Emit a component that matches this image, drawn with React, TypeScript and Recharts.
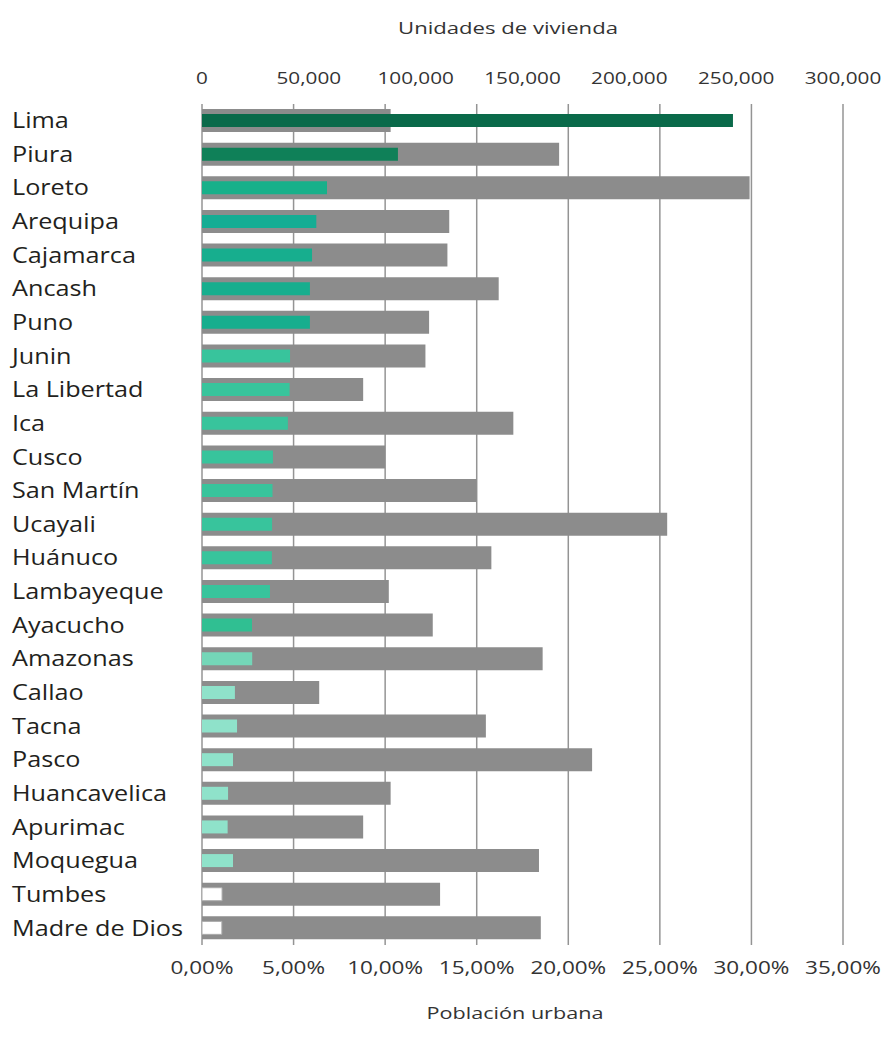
import React from "react";
import { BarChart, Bar, XAxis, YAxis, CartesianGrid, Cell } from "recharts";

const regions = [
  "Lima", "Piura", "Loreto", "Arequipa", "Cajamarca", "Ancash", "Puno", "Junin",
  "La Libertad", "Ica", "Cusco", "San Martín", "Ucayali", "Huánuco", "Lambayeque",
  "Ayacucho", "Amazonas", "Callao", "Tacna", "Pasco", "Huancavelica", "Apurimac",
  "Moquegua", "Tumbes", "Madre de Dios",
];

// Unidades de vivienda (top axis)
const viviendas = [
  248500, 91700, 58500, 53500, 51500, 50500, 50500, 41200, 41000, 40200, 33200,
  33000, 32800, 32700, 31800, 23400, 23500, 15400, 16400, 14500, 12200, 12000,
  14500, 9400, 9300,
];

// Población urbana, % (bottom axis)
const poblacion = [
  10.3, 19.5, 29.9, 13.5, 13.4, 16.2, 12.4, 12.2, 8.8, 17.0, 10.0, 15.0, 25.4,
  15.8, 10.2, 12.6, 18.6, 6.4, 15.5, 21.3, 10.3, 8.8, 18.4, 13.0, 18.5,
];

const barColors = [
  "#0a6a4a", "#0f8058", "#18b08a", "#15ad94", "#17ae8e", "#17ae8e", "#17ae8e",
  "#38c49c", "#38c49c", "#38c49c", "#38c49c", "#38c49c", "#38c49c", "#38c49c",
  "#38c49c", "#30bf92", "#74d6b8", "#8fe2ca", "#8fe2ca", "#8fe2ca", "#8fe2ca",
  "#8fe2ca", "#8fe2ca", "#ffffff", "#ffffff",
];

const viviendaTicks = [0, 50000, 100000, 150000, 200000, 250000, 300000];
const poblacionTicks = [0, 5, 10, 15, 20, 25, 30, 35];

const data = regions.map((region, i) => ({
  region,
  viviendas: viviendas[i],
  poblacion: poblacion[i],
}));

const FONT = "'Open Sans', sans-serif";

const RegionTick = ({ y, payload }: any) => (
  <text
    transform={`translate(4, ${y}) scale(1.2, 1)`}
    dy="0.35em"
    fontSize={21}
    fill="#231f20"
    fontFamily={FONT}
  >
    {payload.value}
  </text>
);

const TopTick = ({ x, y, payload }: any) => (
  <text
    transform={`translate(${x}, ${y - 18}) scale(1.22, 1)`}
    textAnchor="middle"
    fontSize={17}
    fill="#333"
    fontFamily={FONT}
  >
    {payload.value.toLocaleString("en-US")}
  </text>
);

const BottomTick = ({ x, y, payload }: any) => (
  <text
    transform={`translate(${x}, ${y + 27}) scale(1.25, 1)`}
    textAnchor="middle"
    fontSize={18}
    fill="#333"
    fontFamily={FONT}
  >
    {payload.value.toFixed(2).replace(".", ",") + "%"}
  </text>
);

const titleStyle: React.CSSProperties = {
  position: "absolute",
  fontFamily: FONT,
  fontSize: 17,
  color: "#333",
  whiteSpace: "nowrap",
  lineHeight: "20px",
};

export default function App() {
  return (
    <div style={{ position: "relative", width: 879, height: 1047, background: "#fff" }}>
      <div style={{ ...titleStyle, left: 500, top: 10, transform: "translateX(-50%) scaleX(1.3)" }}>
        Unidades de vivienda
      </div>
      <BarChart
        width={879}
        height={1000}
        data={data}
        layout="vertical"
        margin={{ top: 10, right: 44, bottom: 20, left: 0 }}
      >
        <CartesianGrid
          xAxisId="pob"
          yAxisId="cat"
          horizontal={false}
          stroke="#949494"
          strokeWidth={1.5}
        />
        <XAxis
          xAxisId="viv"
          orientation="top"
          type="number"
          domain={[0, 300000]}
          ticks={viviendaTicks}
          interval={0}
          axisLine={false}
          tickLine={false}
          tickSize={0}
          height={86}
          tick={TopTick}
        />
        <XAxis
          xAxisId="pob"
          orientation="bottom"
          type="number"
          domain={[0, 35]}
          ticks={poblacionTicks}
          interval={0}
          axisLine={false}
          tickLine={false}
          tickSize={0}
          height={43}
          tick={BottomTick}
        />
        <YAxis
          yAxisId="cat"
          type="category"
          dataKey="region"
          width={194}
          axisLine={false}
          tickLine={false}
          interval={0}
          tick={RegionTick}
        />
        <YAxis yAxisId="cat2" type="category" dataKey="region" hide />
        <Bar
          dataKey="poblacion"
          xAxisId="pob"
          yAxisId="cat2"
          barSize={23}
          fill="#8c8c8c"
          isAnimationActive={false}
        />
        <Bar
          dataKey="viviendas"
          xAxisId="viv"
          yAxisId="cat"
          barSize={13}
          isAnimationActive={false}
        >
          {data.map((d, i) => (
            <Cell
              key={d.region}
              fill={barColors[i]}
              stroke={barColors[i] === "#ffffff" ? "#aaa" : "none"}
            />
          ))}
        </Bar>
      </BarChart>
      <div style={{ ...titleStyle, left: 507, top: 995, transform: "translateX(-50%) scaleX(1.27)" }}>
        Población urbana
      </div>
    </div>
  );
}
